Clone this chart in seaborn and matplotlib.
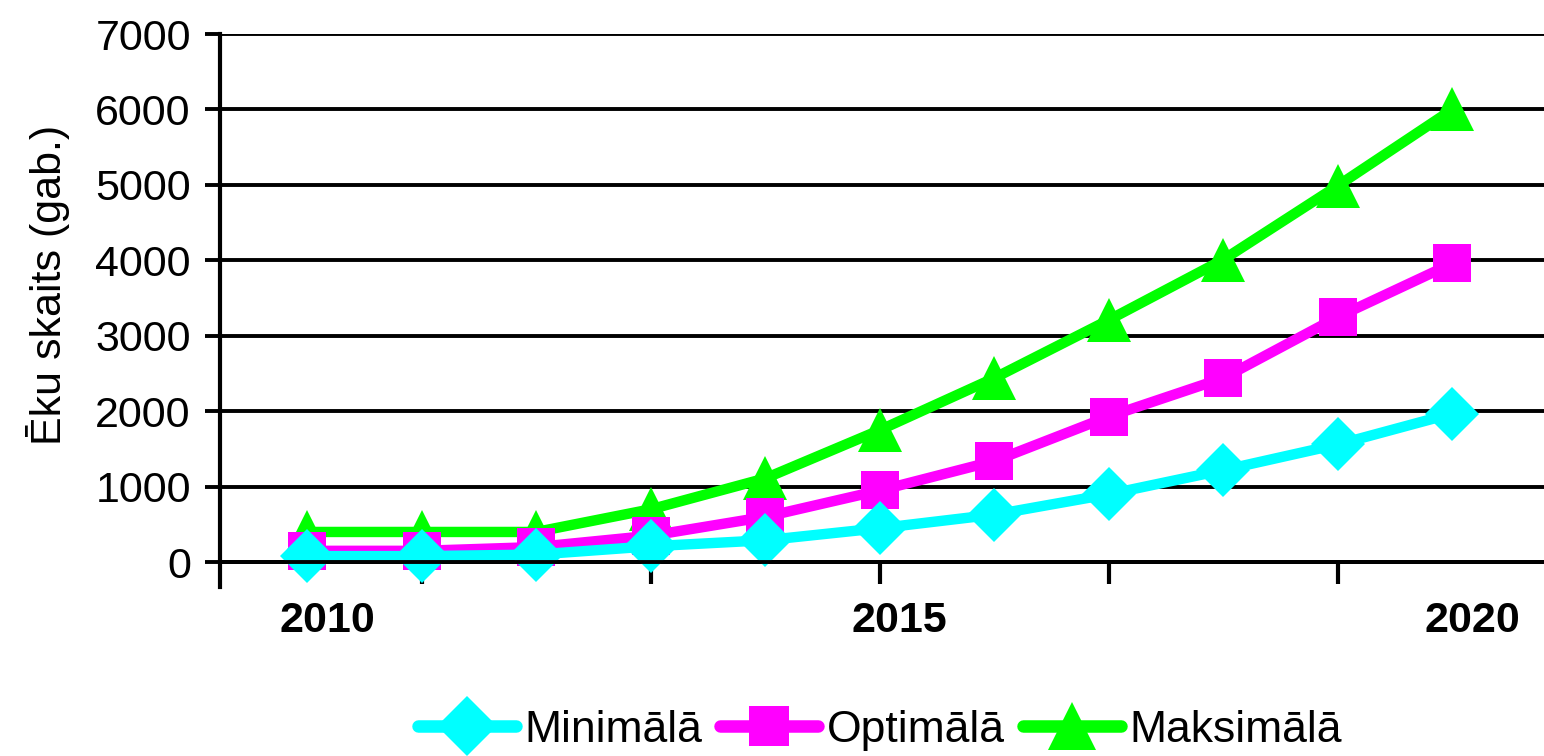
import matplotlib
matplotlib.use("Agg")
import matplotlib.pyplot as plt
import matplotlib.transforms as mtransforms
from matplotlib.lines import Line2D
import pandas as pd
import seaborn as sns

# Data
years = [2010, 2011, 2012, 2013, 2014, 2015, 2016, 2017, 2018, 2019, 2020]
minimala = [80, 80, 100, 210, 290, 450, 630, 900, 1220, 1560, 1970]
optimala = [150, 150, 200, 350, 600, 950, 1340, 1930, 2440, 3250, 3960]
maksimala = [400, 400, 400, 700, 1110, 1750, 2440, 3210, 4010, 4990, 6000]

series_names = ["Minimālā", "Optimālā", "Maksimālā"]
series_colors = ["#00FFFF", "#FF00FF", "#00FF00"]
series_markers = ["D", "s", "^"]
label_years = [2010, 2015, 2020]
tick_years = [2011, 2013, 2015, 2017, 2019]
y_ticks = [0, 1000, 2000, 3000, 4000, 5000, 6000, 7000]

df = pd.DataFrame({
    "year": years * 3,
    "value": minimala + optimala + maksimala,
    "series": [s for s in series_names for _ in years],
})

sns.set_style("white")
plt.rcParams["font.family"] = ["Liberation Sans", "DejaVu Sans"]
plt.rcParams["text.color"] = "black"

fig = plt.figure(figsize=(15.44, 7.56), dpi=100)
ax = fig.add_axes([0.1425, 0.2235, 0.8575, 0.7315])

marker_sizes = {"Minimālā": 28, "Optimālā": 28, "Maksimālā": 32}
# draw green first so cyan ends up on top
for name, color, marker in reversed(list(zip(series_names, series_colors, series_markers))):
    sub = df[df["series"] == name]
    sns.lineplot(data=sub, x="year", y="value", ax=ax, color=color, linewidth=7.5,
                 marker=marker, markersize=marker_sizes[name], markeredgewidth=0,
                 legend=False)

ax.set_xlim(2009.24, 2020.8)
ax.set_ylim(-330, 7000)
ax.set_yticks(y_ticks)
ax.set_yticklabels([str(v) for v in y_ticks])
ax.yaxis.grid(True, color="black", linewidth=2.8)
ax.set_axisbelow(True)

for side in ["top", "right"]:
    ax.spines[side].set_visible(False)
ax.spines["left"].set_linewidth(3)
ax.spines["left"].set_color("black")
ax.spines["bottom"].set_position(("data", 0))
ax.spines["bottom"].set_linewidth(2.8)
ax.spines["bottom"].set_color("black")

ax.xaxis.remove_overlapping_locs = False
ax.set_xticks(tick_years)
ax.set_xticklabels([""] * len(tick_years))
ax.set_xticks(label_years, minor=True)
ax.set_xticklabels([str(y) for y in label_years], minor=True,
                   fontsize=31, fontweight="bold", color="black")
ax.tick_params(axis="x", which="major", direction="out", length=16, width=3,
               color="black", bottom=True)
ax.tick_params(axis="x", which="minor", length=0, pad=28, labelcolor="black")
ax.tick_params(axis="y", direction="out", length=11, width=2.8, color="black",
               left=True, labelsize=31, pad=10, labelcolor="black")

offset = mtransforms.ScaledTranslation(20 / 100, 0, fig.dpi_scale_trans)
for lbl in ax.xaxis.get_minorticklabels():
    lbl.set_transform(lbl.get_transform() + offset)

ax.set_xlabel("")
ax.set_ylabel("Ēku skaits (gab.)", fontsize=31, color="black")
ax.yaxis.set_label_coords(-0.113, 0.547)

legend_sizes = {"Minimālā": 31, "Optimālā": 29, "Maksimālā": 34}
handles = [
    Line2D([], [], color=c, linewidth=9, marker=m, markersize=legend_sizes[n],
           markeredgewidth=0)
    for n, c, m in zip(series_names, series_colors, series_markers)
]
ax.legend(handles, series_names, loc="center", bbox_to_anchor=(0.57, 0.034),
          bbox_transform=fig.transFigure, ncol=3, frameon=False, fontsize=32,
          handlelength=2.2, handletextpad=0.2, columnspacing=0.4)

fig.savefig("out.png", dpi=100)
